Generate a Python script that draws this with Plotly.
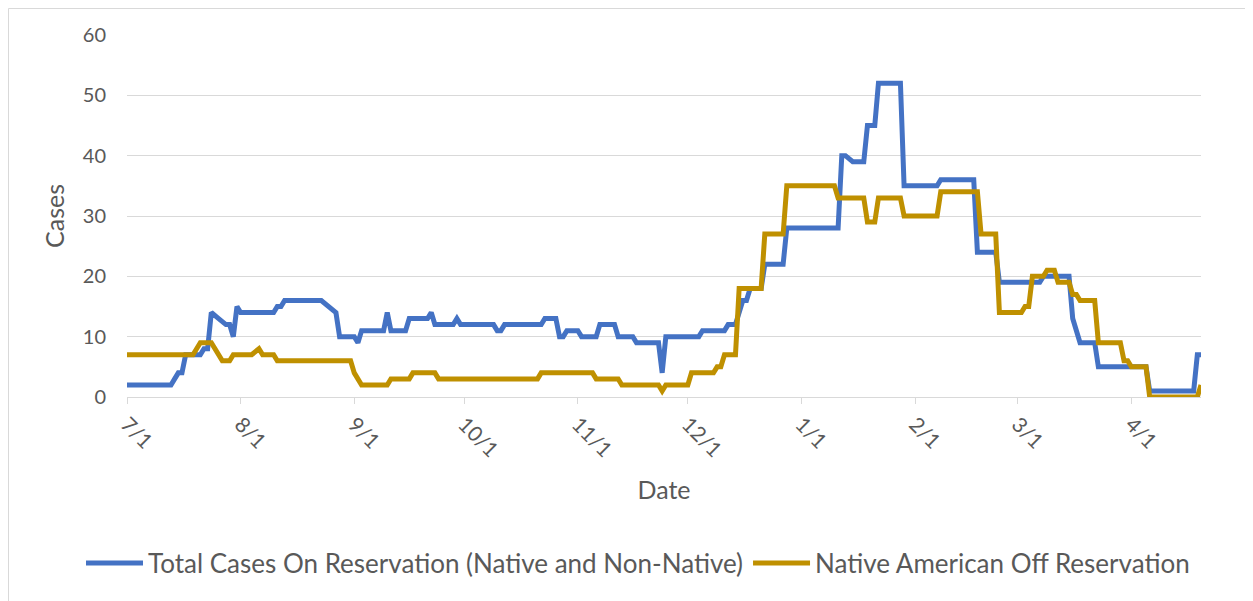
import plotly.graph_objects as go

# Total Cases On Reservation (Native and Non-Native)
on_res_dates = [
    "2020-07-01", "2020-07-13", "2020-07-14", "2020-07-15", "2020-07-16", "2020-07-17",
    "2020-07-21", "2020-07-22", "2020-07-23", "2020-07-24", "2020-07-26", "2020-07-28",
    "2020-07-29", "2020-07-30", "2020-07-31", "2020-08-01", "2020-08-10", "2020-08-11",
    "2020-08-12", "2020-08-13", "2020-08-23", "2020-08-25", "2020-08-27", "2020-08-28",
    "2020-09-01", "2020-09-02", "2020-09-03", "2020-09-09", "2020-09-10", "2020-09-11",
    "2020-09-15", "2020-09-16", "2020-09-21", "2020-09-22", "2020-09-23", "2020-09-28",
    "2020-09-29", "2020-09-30", "2020-10-09", "2020-10-10", "2020-10-11", "2020-10-12",
    "2020-10-22", "2020-10-23", "2020-10-26", "2020-10-27", "2020-10-28", "2020-10-29",
    "2020-11-01", "2020-11-02", "2020-11-06", "2020-11-07", "2020-11-11", "2020-11-12",
    "2020-11-16", "2020-11-17", "2020-11-23", "2020-11-24", "2020-11-25", "2020-12-04",
    "2020-12-05", "2020-12-11", "2020-12-12", "2020-12-14", "2020-12-16", "2020-12-17",
    "2020-12-18", "2020-12-21", "2020-12-22", "2020-12-27", "2020-12-28", "2021-01-11",
    "2021-01-12", "2021-01-13", "2021-01-15", "2021-01-18", "2021-01-19", "2021-01-21",
    "2021-01-22", "2021-01-28", "2021-01-29", "2021-02-07", "2021-02-08", "2021-02-17",
    "2021-02-18", "2021-02-23", "2021-02-24", "2021-03-07", "2021-03-08", "2021-03-15",
    "2021-03-16", "2021-03-18", "2021-03-22", "2021-03-23", "2021-04-05", "2021-04-06",
    "2021-04-18", "2021-04-19", "2021-04-20",
]
on_res_cases = [
    2, 2, 3, 4, 4, 7,
    7, 8, 8, 14, 13, 12,
    12, 10, 15, 14, 14, 15,
    15, 16, 16, 15, 14, 10,
    10, 9, 11, 11, 14, 11,
    11, 13, 13, 14, 12, 12,
    13, 12, 12, 11, 11, 12,
    12, 13, 13, 10, 10, 11,
    11, 10, 10, 12, 12, 10,
    10, 9, 9, 4, 10, 10,
    11, 11, 12, 12, 16, 16,
    18, 18, 22, 22, 28, 28,
    40, 40, 39, 39, 45, 45,
    52, 52, 35, 35, 36, 36,
    24, 24, 19, 19, 20, 20,
    13, 9, 9, 5, 5, 1,
    1, 7, 7,
]

# Native American Off Reservation
off_res_dates = [
    "2020-07-01", "2020-07-19", "2020-07-20", "2020-07-21", "2020-07-24", "2020-07-26",
    "2020-07-27", "2020-07-29", "2020-07-30", "2020-08-04", "2020-08-06", "2020-08-07",
    "2020-08-10", "2020-08-11", "2020-08-31", "2020-09-01", "2020-09-02", "2020-09-03",
    "2020-09-10", "2020-09-11", "2020-09-16", "2020-09-17", "2020-09-23", "2020-09-24",
    "2020-10-21", "2020-10-22", "2020-11-05", "2020-11-06", "2020-11-12", "2020-11-13",
    "2020-11-23", "2020-11-24", "2020-11-25", "2020-12-01", "2020-12-02", "2020-12-08",
    "2020-12-09", "2020-12-10", "2020-12-11", "2020-12-14", "2020-12-15", "2020-12-21",
    "2020-12-22", "2020-12-27", "2020-12-28", "2021-01-10", "2021-01-11", "2021-01-18",
    "2021-01-19", "2021-01-21", "2021-01-22", "2021-01-28", "2021-01-29", "2021-02-07",
    "2021-02-08", "2021-02-18", "2021-02-19", "2021-02-23", "2021-02-24", "2021-03-02",
    "2021-03-03", "2021-03-04", "2021-03-05", "2021-03-08", "2021-03-09", "2021-03-11",
    "2021-03-12", "2021-03-15", "2021-03-16", "2021-03-17", "2021-03-18", "2021-03-22",
    "2021-03-23", "2021-03-29", "2021-03-30", "2021-03-31", "2021-04-01", "2021-04-05",
    "2021-04-06", "2021-04-19", "2021-04-20",
]
off_res_cases = [
    7, 7, 8, 9, 9, 7,
    6, 6, 7, 7, 8, 7,
    7, 6, 6, 4, 3, 2,
    2, 3, 3, 4, 4, 3,
    3, 4, 4, 3, 3, 2,
    2, 1, 2, 2, 4, 4,
    5, 5, 7, 7, 18, 18,
    27, 27, 35, 35, 33, 33,
    29, 29, 33, 33, 30, 30,
    34, 34, 27, 27, 14, 14,
    15, 15, 20, 20, 21, 21,
    19, 19, 17, 17, 16, 16,
    9, 9, 6, 6, 5, 5,
    0, 0, 2,
]

tick_dates = ["2020-07-01", "2020-08-01", "2020-09-01", "2020-10-01", "2020-11-01",
              "2020-12-01", "2021-01-01", "2021-02-01", "2021-03-01", "2021-04-01"]
tick_labels = ["7/1", "8/1", "9/1", "10/1", "11/1", "12/1", "1/1", "2/1", "3/1", "4/1"]

FONT = "Lato, Carlito, Calibri, sans-serif"
GREY = "#595959"
GRID = "#d9d9d9"

# page body has an 8px margin, so the figure is sized to fit the window
W, H = 1245, 593
L, R, T, B = 119, 52, 27, 204
PW = W - L - R
PH = H - T - B

fig = go.Figure()
fig.add_trace(go.Scatter(
    x=on_res_dates, y=on_res_cases, mode="lines",
    name="Total Cases On Reservation (Native and Non-Native)",
    line=dict(color="#4472C4", width=5),
))
fig.add_trace(go.Scatter(
    x=off_res_dates, y=off_res_cases, mode="lines",
    name="Native American Off Reservation",
    line=dict(color="#BF9000", width=5),
))

fig.update_layout(
    width=W, height=H,
    margin=dict(l=L, r=R, t=T, b=B, autoexpand=False),
    paper_bgcolor="white", plot_bgcolor="white",
    font=dict(family=FONT, size=20, color=GREY),
    showlegend=True,
    legend=dict(
        orientation="h", xref="paper", yref="paper",
        x=(73 - L) / PW, xanchor="left",
        y=-(555 - T - PH) / PH, yanchor="middle",
        font=dict(family=FONT, size=26, color=GREY),
        itemwidth=57, traceorder="normal",
        bgcolor="rgba(0,0,0,0)",
    ),
    xaxis=dict(
        type="date",
        range=["2020-07-01", "2021-04-20"],
        tickvals=tick_dates, ticktext=tick_labels,
        tickangle=45,
        ticks="outside", ticklen=6, tickcolor=GRID, tickwidth=1,
        showline=True, linecolor=GRID, linewidth=1,
        showgrid=False, zeroline=False,
        tickfont=dict(family=FONT, size=21, color=GREY),
        title=dict(text="Date", font=dict(family=FONT, size=25, color=GREY), standoff=20),
    ),
    yaxis=dict(
        range=[0, 60], tickvals=[0, 10, 20, 30, 40, 50, 60],
        showgrid=True, gridcolor=GRID, gridwidth=1,
        zeroline=False, showline=False, ticks="",
        ticklabelstandoff=20,
        tickfont=dict(family=FONT, size=20, color=GREY),
        title=dict(text="Cases", font=dict(family=FONT, size=25, color=GREY), standoff=11),
    ),
    shapes=[dict(
        type="rect", xref="paper", yref="paper",
        x0=(0.5 - L) / PW, x1=(W + 10 - L) / PW,
        y0=-(H + 10 - T - PH) / PH, y1=(T + PH - 0.5) / PH,
        line=dict(color=GRID, width=1), fillcolor="rgba(0,0,0,0)", layer="below",
    )],
)

fig.write_html("out.html")
